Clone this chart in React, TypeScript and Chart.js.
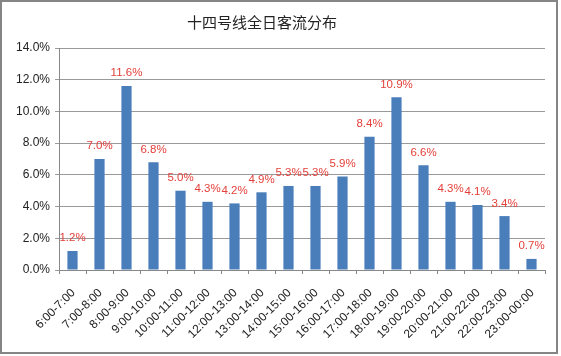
import React, { useEffect, useRef } from "react";
import { Chart, registerables } from "chart.js";

Chart.register(...registerables);

const titleText = "十四号线全日客流分布";
const categories = [
  "6:00-7:00", "7:00-8:00", "8:00-9:00", "9:00-10:00", "10:00-11:00", "11:00-12:00",
  "12:00-13:00", "13:00-14:00", "14:00-15:00", "15:00-16:00", "16:00-17:00", "17:00-18:00",
  "18:00-19:00", "19:00-20:00", "20:00-21:00", "21:00-22:00", "22:00-23:00", "23:00-00:00",
];
const values = [1.2, 7.0, 11.6, 6.8, 5.0, 4.3, 4.2, 4.9, 5.3, 5.3, 5.9, 8.4, 10.9, 6.6, 4.3, 4.1, 3.4, 0.7];
const yMax = 14;
const yStep = 2;

export default function App() {
  const ref = useRef<HTMLCanvasElement | null>(null);
  useEffect(() => {
    document.body.style.margin = "0";
    const canvas = ref.current!;
    const labelPlugin = {
      id: "labels",
      afterDatasetsDraw(chart: any) {
        const ctx = chart.ctx;
        const meta = chart.getDatasetMeta(0);
        ctx.save();
        ctx.fillStyle = "#e3403a";
        ctx.font = "11.5px 'Liberation Sans', Arial, sans-serif";
        ctx.textAlign = "center";
        ctx.textBaseline = "bottom";
        meta.data.forEach((bar: any, i: number) => {
          ctx.fillText(values[i].toFixed(1) + "%", bar.x, bar.y - 7);
        });
        ctx.restore();
      },
      afterDraw(chart: any) {
        const ctx = chart.ctx;
        const xs = chart.scales.x;
        ctx.save();
        ctx.fillStyle = "#222";
        ctx.font = "12px 'Liberation Sans', Arial, sans-serif";
        ctx.textAlign = "right";
        ctx.textBaseline = "middle";
        categories.forEach((c, i) => {
          const x = xs.getPixelForTick(i);
          ctx.save();
          ctx.translate(x + 1, xs.top + 21);
          ctx.rotate(-Math.PI / 4);
          ctx.fillText(c, 0, 0);
          ctx.restore();
        });
        ctx.strokeStyle = "#858585";
        ctx.lineWidth = 2;
        ctx.strokeRect(1, 1, 556, 352);
        ctx.fillStyle = "#222";
        ctx.font = "15px 'Noto Sans CJK SC', sans-serif";
        ctx.textAlign = "center";
        ctx.textBaseline = "middle";
        ctx.fillText(titleText, 262, 22);
        ctx.restore();
      },
    };
    const chart = new Chart(canvas, {
      type: "bar",
      data: {
        labels: categories,
        datasets: [
          {
            data: values,
            backgroundColor: "#4a7ebb",
            borderWidth: 0,
            barPercentage: 0.42,
            categoryPercentage: 0.9,
          },
        ],
      },
      options: {
        animation: false,
        responsive: false,
        devicePixelRatio: 1,
        layout: { padding: { top: 48, right: 16, left: 0, bottom: 0 } },
        plugins: { legend: { display: false }, tooltip: { enabled: false }, title: { display: false } },
        scales: {
          x: {
            afterFit: (s: any) => { s.height = 86; },
            grid: { drawOnChartArea: false, drawTicks: true, tickLength: 4, color: "#888" },
            border: { color: "#888" },
            ticks: { display: false, autoSkip: false },
          },
          y: {
            min: 0,
            max: yMax,
            afterFit: (s: any) => { s.width = 59; },
            grid: { color: "#999", tickLength: 4 },
            border: { color: "#888" },
            ticks: {
              stepSize: yStep,
              color: "#222",
              font: { family: "'Liberation Sans', Arial, sans-serif", size: 12 },
              padding: 5,
              callback: (v: any) => Number(v).toFixed(1) + "%",
            },
          },
        },
      },
      plugins: [labelPlugin],
    });
    return () => chart.destroy();
  }, []);
  return (
    <div style={{ width: 561, height: 356, background: "#fff" }}>
      <canvas ref={ref} width={561} height={356} style={{ display: "block" }} />
    </div>
  );
}
